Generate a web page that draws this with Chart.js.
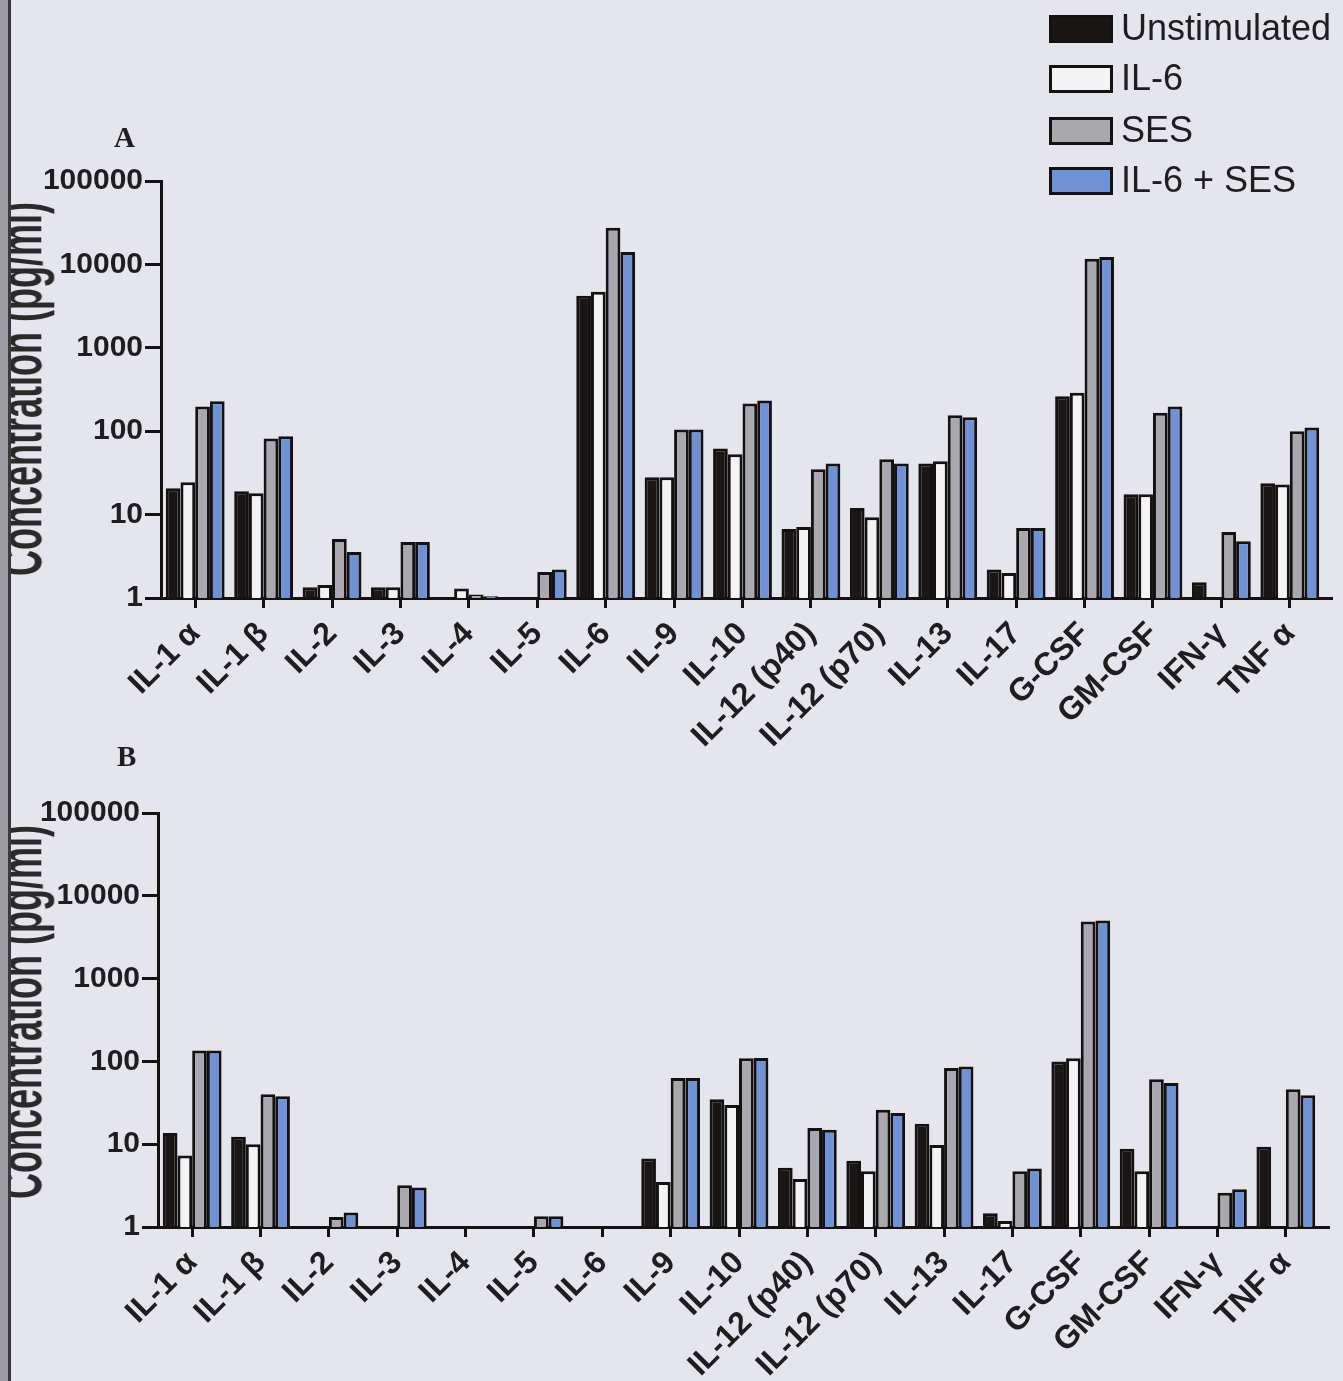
<!DOCTYPE html>
<html>
<head>
<meta charset="utf-8">
<title>Cytokine concentrations</title>
<script src="https://cdn.jsdelivr.net/npm/chart.js@4.4.1/dist/chart.umd.min.js"></script>
<style>
  html, body { margin: 0; padding: 0; }
  body {
    width: 1343px; height: 1381px; position: relative; overflow: hidden;
    background: #e5e5ee;
    font-family: "Liberation Sans", Arial, sans-serif;
  }
  canvas { position: absolute; left: 0; }
  #chartA { top: 0; }
  #chartB { top: 760px; }
  .panel {
    position: absolute; font-family: "Liberation Serif", "Times New Roman", serif;
    font-weight: bold; font-size: 29px; line-height: 1; color: #1e1e1e;
  }
  .ytitle {
    position: absolute; width: 420px; height: 36px; margin-left: -210px; margin-top: -18px;
    text-align: center; font-weight: bold; font-size: 36px; line-height: 36px;
    white-space: nowrap; color: #2a2a2a;
    transform: rotate(-90deg) scale(1, 1.7);
  }
  .edge {
    position: absolute; left: 0; top: 0; width: 8px; height: 1381px;
    background: #9c9ca2; border-right: 3px solid #3a3a3c; z-index: 5;
  }
  .lg-box { position: absolute; width: 58px; height: 22px; border: 3px solid #151111; }
  .lg-text {
    position: absolute; font-size: 36px; line-height: 1; color: #1e1e1e; white-space: nowrap;
  }
</style>
</head>
<body>
<canvas id="chartA" width="1343" height="760"></canvas>
<canvas id="chartB" width="1343" height="621"></canvas>

<div class="panel" style="left:114px; top:123px;">A</div>
<div class="panel" style="left:117px; top:742px;">B</div>
<div class="ytitle" style="left:21px; top:389px;">Concentration (pg/ml)</div>
<div class="ytitle" style="left:21px; top:1012px;">Concentration (pg/ml)</div>
<div id="legend"></div>
<div class="edge"></div>

<script>
// Cytokines measured
const categories = ['IL-1 α', 'IL-1 β', 'IL-2', 'IL-3', 'IL-4', 'IL-5', 'IL-6', 'IL-9', 'IL-10',
  'IL-12 (p40)', 'IL-12 (p70)', 'IL-13', 'IL-17', 'G-CSF', 'GM-CSF', 'IFN-γ', 'TNF α'];

// Treatment groups
const seriesNames = ['Unstimulated', 'IL-6', 'SES', 'IL-6 + SES'];
const seriesFill = ['#1b1616', '#f3f3f5', '#a8a8ae', '#6f91d5'];

// Panel A, concentration (pg/ml)
const unstimA = [20.7, 19, 1.35, 1.35, 1, 1, 4200, 28, 62, 6.7, 12, 41, 2.2, 262, 17.5, 1.55, 23.7];
const il6A    = [24.5, 18, 1.43, 1.35, 1.3, 1, 4700, 28, 53, 7.1, 9.3, 43.5, 2.0, 290, 17.5, 1, 23];
const sesA    = [198, 82, 5.1, 4.7, 1.1, 2.05, 27500, 105, 215, 35, 46, 155, 6.9, 11700, 167, 6.2, 100];
const il6sesA = [228, 87, 3.55, 4.7, 1.05, 2.2, 14100, 105, 233, 41, 41, 147, 6.9, 12300, 198, 4.8, 111];

// Panel B, concentration (pg/ml)
const unstimB = [13.7, 12.3, 1, 1, 1, 1, 1, 6.7, 35, 5.2, 6.3, 17.6, 1.47, 100, 8.8, 1, 9.3];
const il6B    = [7.3, 10, 1, 1, 1, 1, 1, 3.5, 29.7, 3.8, 4.7, 9.8, 1.18, 109, 4.7, 1, 1];
const sesB    = [135, 40, 1.32, 3.2, 1, 1.35, 1, 63, 109, 15.7, 26, 83, 4.7, 4900, 61, 2.6, 46];
const il6sesB = [135, 38, 1.5, 3.0, 1, 1.35, 1, 63, 110, 14.9, 23.8, 87, 5.1, 5030, 55, 2.85, 39];

// Log axis ticks
const yTicks = [1, 10, 100, 1000, 10000, 100000];

const INK = '#151111';
const FONT = '"Liberation Sans", Arial, sans-serif';

// legend
const legend = document.getElementById('legend');
const lgBoxTop = [15, 65, 117, 167];
const lgTextTop = [10, 60, 112, 162];
seriesNames.forEach((name, i) => {
  const box = document.createElement('div');
  box.className = 'lg-box';
  box.style.left = '1049px';
  box.style.top = lgBoxTop[i] + 'px';
  box.style.background = seriesFill[i];
  legend.appendChild(box);
  const t = document.createElement('div');
  t.className = 'lg-text';
  t.style.left = '1121px';
  t.style.top = lgTextTop[i] + 'px';
  t.textContent = name;
  legend.appendChild(t);
});

// extends the baseline a little past the last category
const axisTail = {
  id: 'axisTail',
  afterDraw(chart, args, opts) {
    const xs = chart.scales.x;
    const ctx = chart.ctx;
    ctx.save();
    ctx.fillStyle = INK;
    ctx.fillRect(xs.right - 1, Math.round(xs.top - 1.5), opts.ext + 1, 3);
    ctx.restore();
  }
};

function panel(id, series, g) {
  return new Chart(document.getElementById(id), {
    type: 'bar',
    data: {
      labels: categories,
      datasets: series.map((d, i) => ({
        label: seriesNames[i],
        data: d,
        backgroundColor: seriesFill[i],
        borderColor: INK,
        borderWidth: 3,
        borderSkipped: 'start',
        categoryPercentage: 0.86,
        barPercentage: 1.0
      }))
    },
    options: {
      responsive: false,
      animation: false,
      devicePixelRatio: 1,
      layout: { padding: { top: g.top, right: g.right, bottom: 0, left: 0 } },
      plugins: { legend: { display: false }, tooltip: { enabled: false }, axisTail: { ext: g.ext } },
      scales: {
        x: {
          type: 'category',
          offset: true,
          grid: { display: true, drawOnChartArea: false, drawTicks: true, tickLength: 10,
                  lineWidth: 3, color: INK, offset: false },
          border: { display: true, width: 3, color: INK },
          ticks: { minRotation: 45, maxRotation: 45, autoSkip: false, padding: 7, color: '#1e1e1e',
                   font: { family: FONT, size: 32, weight: 'bold' } },
          afterFit(s) { s.height = g.xh; }
        },
        y: {
          type: 'logarithmic',
          min: 1,
          max: 100000,
          afterBuildTicks(s) { s.ticks = yTicks.map(v => ({ value: v })); },
          grid: { drawOnChartArea: false, drawTicks: true, tickLength: 16, lineWidth: 3, color: INK },
          border: { display: true, width: 3, color: INK },
          ticks: { padding: 2, color: '#1e1e1e', font: { family: FONT, size: 30, weight: 'bold' },
                   callback: v => String(v) },
          afterFit(s) { s.width = g.yw; }
        }
      }
    },
    plugins: [axisTail]
  });
}

panel('chartA', [unstimA, il6A, sesA, il6sesA], { top: 181, right: 19, yw: 161, xh: 162, ext: 9 });
panel('chartB', [unstimB, il6B, sesB, il6sesB], { top: 53, right: 23, yw: 158, xh: 154, ext: 10 });
</script>
</body>
</html>
